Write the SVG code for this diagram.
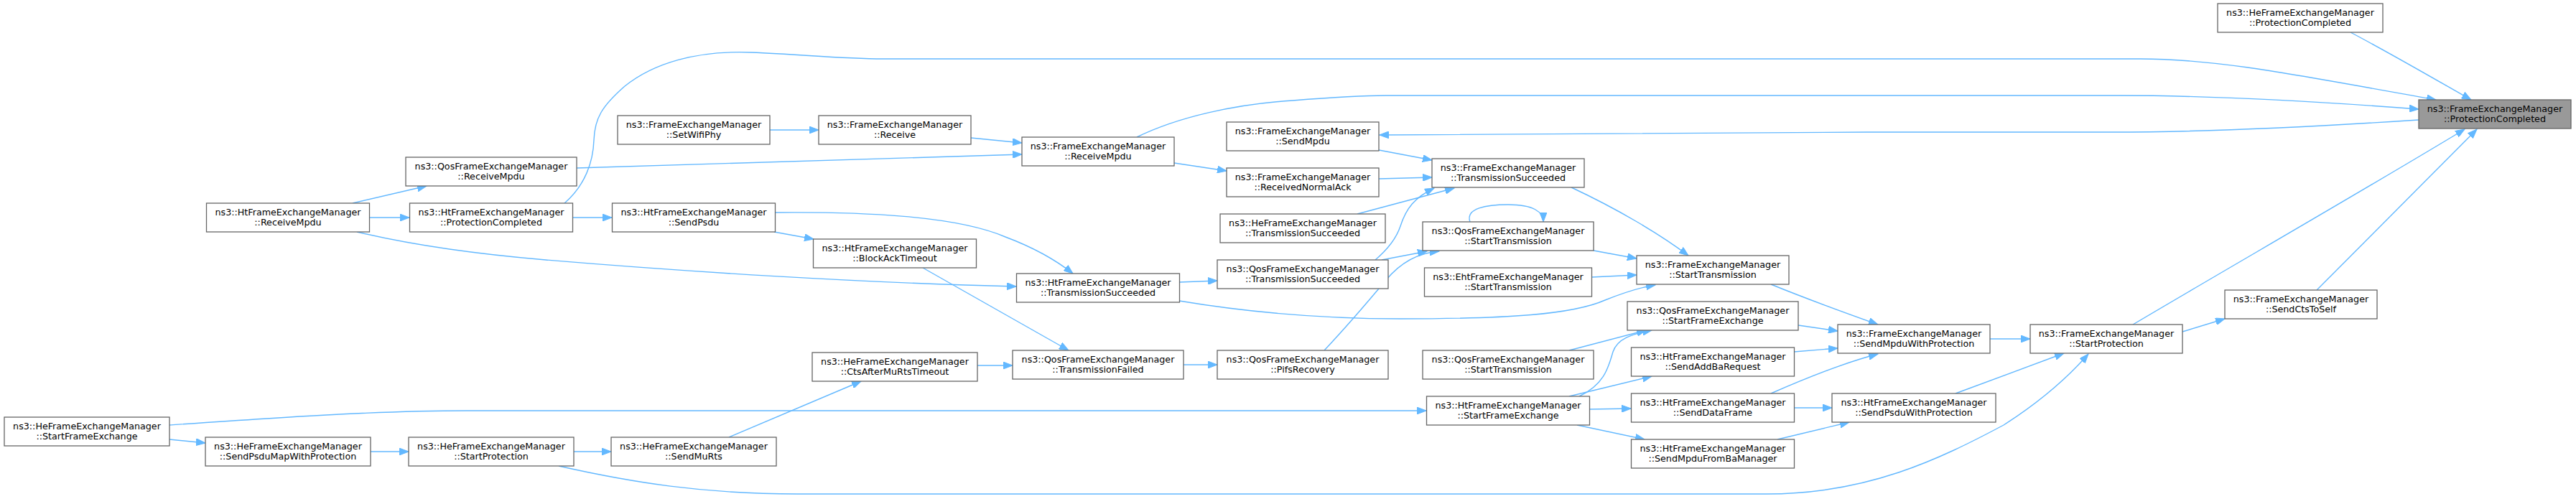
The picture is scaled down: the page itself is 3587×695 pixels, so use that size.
<svg xmlns="http://www.w3.org/2000/svg" width="3587" height="695" viewBox="0 0 3587 695">
<style>
.n rect{fill:#ffffff;stroke:#666666;stroke-width:1.3}
.n.t rect{fill:#999999}
.n text{font-family:"DejaVu Sans",Verdana,sans-serif;font-size:12.7px;fill:#000000;text-anchor:middle}
.e path{fill:none;stroke:#63b8ff;stroke-width:1.4}
</style>
<defs>
<marker id="ah" markerUnits="userSpaceOnUse" markerWidth="14" markerHeight="10" refX="13" refY="5" orient="auto" viewBox="0 0 14 10">
<path d="M0,0 L13,5 L0,10 z" fill="#63b8ff" stroke="#63b8ff" stroke-width="1"/>
</marker>
</defs>
<rect width="3587" height="695" fill="#ffffff"/>
<g class="e" marker-end="url(#ah)">
<path id="e1" d="M3273,45 C3330,75 3390,110 3441,139"/>
<path id="e2" d="M786,283 C815,258 826,225 827,195 C828,165 838,148 870,120 C910,88 970,70 1046,73 C1120,76 1170,82 1230,82 L2980,82 C3090,82 3200,105 3392,139"/>
<path id="e3" d="M1583,191 C1640,163 1720,145 1800,140 C1850,136 1890,133 1930,133 L2950,133 C3100,133 3250,143 3368,152"/>
<path id="e4" d="M3368,167 C3200,178 3050,184 2940,184 L2600,184 C2300,184 2100,186 1921,188"/>
<path id="e5" d="M2970,452 C3100,375 3300,260 3432,180"/>
<path id="e6" d="M3226,404 L3449,180"/>
<path id="e7" d="M3039,462 L3098,444"/>
<path id="e8" d="M2771,472 L2827,472"/>
<path id="e9" d="M2723,548 L2874,492"/>
<path id="e10" d="M778,649 C880,672 980,688 1110,688 L2460,688 C2600,688 2700,640 2790,592 C2840,560 2880,525 2908,493"/>
<path id="e11" d="M2466,396 C2520,418 2570,436 2615,452"/>
<path id="e12" d="M2504,453 L2559,461"/>
<path id="e13" d="M2498,490 L2559,485"/>
<path id="e14" d="M2466,548 C2530,520 2580,502 2615,493"/>
<path id="e15" d="M2498,568 L2551,568"/>
<path id="e16" d="M2475,612 L2575,588"/>
<path id="e17" d="M2199,552 C2235,535 2240,510 2246,490 C2252,472 2272,465 2300,460"/>
<path id="e18" d="M2185,552 L2300,524"/>
<path id="e19" d="M2213,570 L2271,569"/>
<path id="e20" d="M2196,592 L2290,612"/>
<path id="e21" d="M2185,488 L2292,460"/>
<path id="e22" d="M2219,349 L2279,360"/>
<path id="e23" d="M2216,386 L2279,383"/>
<path id="e24" d="M1642,419 C1720,432 1820,444 1950,444 C2100,444 2190,438 2235,418 C2260,408 2285,400 2305,397"/>
<path id="e25" d="M2188,261 C2250,290 2310,325 2351,356"/>
<path id="e26" d="M2047,309 C2040,290 2070,285 2100,285 C2135,285 2149,295 2149,309"/>
<path id="e27" d="M1920,209 L1994,223"/>
<path id="e28" d="M1920,249 L1994,247"/>
<path id="e29" d="M1890,298 L2025,262"/>
<path id="e30" d="M1915,362 C1935,345 1945,330 1950,315 C1958,290 1970,275 1997,262"/>
<path id="e31" d="M1924,362 L1987,350"/>
<path id="e32" d="M1844,488 C1875,455 1905,420 1930,390 C1950,366 1975,352 2004,350"/>
<path id="e33" d="M1635,227 L1708,238"/>
<path id="e34" d="M1352,192 L1423,199"/>
<path id="e35" d="M1072,181 L1140,181"/>
<path id="e36" d="M803,234 L1423,215"/>
<path id="e37" d="M491,283 L594,259"/>
<path id="e38" d="M515,303 L570,303"/>
<path id="e39" d="M497,323 C560,338 640,352 760,362 C950,378 1200,394 1415,399"/>
<path id="e40" d="M798,303 L852,303"/>
<path id="e41" d="M1080,296 C1200,295 1330,300 1400,330 C1440,345 1470,362 1494,381"/>
<path id="e42" d="M1078,323 L1133,333"/>
<path id="e43" d="M1285,373 L1488,488"/>
<path id="e44" d="M1642,393 L1695,391"/>
<path id="e45" d="M1361,509 L1410,509"/>
<path id="e46" d="M1648,508 L1695,508"/>
<path id="e47" d="M1015,609 L1199,531"/>
<path id="e48" d="M236,592 C380,582 520,572 650,572 L1986,572"/>
<path id="e49" d="M236,612 L286,617"/>
<path id="e50" d="M516,629 L569,629"/>
<path id="e51" d="M799,629 L851,629"/>
</g>
<g id="n_target" class="n t"><rect x="3368" y="139" width="212" height="40"/><text x="3474" y="156">ns3::FrameExchangeManager</text><text x="3474" y="170">::ProtectionCompleted</text></g>
<g id="n_heProtComp" class="n"><rect x="3088" y="5" width="230" height="40"/><text x="3203" y="22">ns3::HeFrameExchangeManager</text><text x="3203" y="36">::ProtectionCompleted</text></g>
<g id="n_sendCts" class="n"><rect x="3098" y="404" width="212" height="40"/><text x="3204" y="421">ns3::FrameExchangeManager</text><text x="3204" y="435">::SendCtsToSelf</text></g>
<g id="n_startProt" class="n"><rect x="2827" y="452" width="212" height="40"/><text x="2933" y="469">ns3::FrameExchangeManager</text><text x="2933" y="483">::StartProtection</text></g>
<g id="n_sendMpduWP" class="n"><rect x="2559" y="452" width="212" height="40"/><text x="2665" y="469">ns3::FrameExchangeManager</text><text x="2665" y="483">::SendMpduWithProtection</text></g>
<g id="n_htSendPsduWP" class="n"><rect x="2551" y="548" width="228" height="40"/><text x="2665" y="565">ns3::HtFrameExchangeManager</text><text x="2665" y="579">::SendPsduWithProtection</text></g>
<g id="n_startTx" class="n"><rect x="2279" y="356" width="212" height="40"/><text x="2385" y="373">ns3::FrameExchangeManager</text><text x="2385" y="387">::StartTransmission</text></g>
<g id="n_qosStartFE" class="n"><rect x="2266" y="420" width="238" height="40"/><text x="2385" y="437">ns3::QosFrameExchangeManager</text><text x="2385" y="451">::StartFrameExchange</text></g>
<g id="n_htAddBa" class="n"><rect x="2271.5" y="484" width="227" height="40"/><text x="2385" y="501">ns3::HtFrameExchangeManager</text><text x="2385" y="515">::SendAddBaRequest</text></g>
<g id="n_htDataFrame" class="n"><rect x="2271.5" y="548" width="227" height="40"/><text x="2385" y="565">ns3::HtFrameExchangeManager</text><text x="2385" y="579">::SendDataFrame</text></g>
<g id="n_htMpduFromBa" class="n"><rect x="2271.5" y="612" width="227" height="40"/><text x="2385" y="629">ns3::HtFrameExchangeManager</text><text x="2385" y="643">::SendMpduFromBaManager</text></g>
<g id="n_txSucc" class="n"><rect x="1994" y="221" width="212" height="40"/><text x="2100" y="238">ns3::FrameExchangeManager</text><text x="2100" y="252">::TransmissionSucceeded</text></g>
<g id="n_qosStartTx1" class="n"><rect x="1981" y="309" width="238" height="40"/><text x="2100" y="326">ns3::QosFrameExchangeManager</text><text x="2100" y="340">::StartTransmission</text></g>
<g id="n_ehtStartTx" class="n"><rect x="1983.5" y="373" width="233" height="40"/><text x="2100" y="390">ns3::EhtFrameExchangeManager</text><text x="2100" y="404">::StartTransmission</text></g>
<g id="n_qosStartTx2" class="n"><rect x="1981" y="488" width="238" height="40"/><text x="2100" y="505">ns3::QosFrameExchangeManager</text><text x="2100" y="519">::StartTransmission</text></g>
<g id="n_htStartFE" class="n"><rect x="1986.5" y="552" width="227" height="40"/><text x="2100" y="569">ns3::HtFrameExchangeManager</text><text x="2100" y="583">::StartFrameExchange</text></g>
<g id="n_sendMpdu" class="n"><rect x="1708" y="170" width="212" height="40"/><text x="1814" y="187">ns3::FrameExchangeManager</text><text x="1814" y="201">::SendMpdu</text></g>
<g id="n_rxNormalAck" class="n"><rect x="1708" y="234" width="212" height="40"/><text x="1814" y="251">ns3::FrameExchangeManager</text><text x="1814" y="265">::ReceivedNormalAck</text></g>
<g id="n_heTxSucc" class="n"><rect x="1699" y="298" width="230" height="40"/><text x="1814" y="315">ns3::HeFrameExchangeManager</text><text x="1814" y="329">::TransmissionSucceeded</text></g>
<g id="n_qosTxSucc" class="n"><rect x="1695" y="362" width="238" height="40"/><text x="1814" y="379">ns3::QosFrameExchangeManager</text><text x="1814" y="393">::TransmissionSucceeded</text></g>
<g id="n_qosPifs" class="n"><rect x="1695" y="488" width="238" height="40"/><text x="1814" y="505">ns3::QosFrameExchangeManager</text><text x="1814" y="519">::PifsRecovery</text></g>
<g id="n_rxMpdu" class="n"><rect x="1423" y="191" width="212" height="40"/><text x="1529" y="208">ns3::FrameExchangeManager</text><text x="1529" y="222">::ReceiveMpdu</text></g>
<g id="n_htTxSucc" class="n"><rect x="1415.5" y="381" width="227" height="40"/><text x="1529" y="398">ns3::HtFrameExchangeManager</text><text x="1529" y="412">::TransmissionSucceeded</text></g>
<g id="n_qosTxFailed" class="n"><rect x="1410" y="488" width="238" height="40"/><text x="1529" y="505">ns3::QosFrameExchangeManager</text><text x="1529" y="519">::TransmissionFailed</text></g>
<g id="n_receive" class="n"><rect x="1140" y="161" width="212" height="40"/><text x="1246" y="178">ns3::FrameExchangeManager</text><text x="1246" y="192">::Receive</text></g>
<g id="n_htBlockAck" class="n"><rect x="1132.5" y="333" width="227" height="40"/><text x="1246" y="350">ns3::HtFrameExchangeManager</text><text x="1246" y="364">::BlockAckTimeout</text></g>
<g id="n_heCtsTimeout" class="n"><rect x="1131" y="491" width="230" height="40"/><text x="1246" y="508">ns3::HeFrameExchangeManager</text><text x="1246" y="522">::CtsAfterMuRtsTimeout</text></g>
<g id="n_setWifiPhy" class="n"><rect x="860" y="161" width="212" height="40"/><text x="966" y="178">ns3::FrameExchangeManager</text><text x="966" y="192">::SetWifiPhy</text></g>
<g id="n_htSendPsdu" class="n"><rect x="852.5" y="283" width="227" height="40"/><text x="966" y="300">ns3::HtFrameExchangeManager</text><text x="966" y="314">::SendPsdu</text></g>
<g id="n_heSendMuRts" class="n"><rect x="851" y="609" width="230" height="40"/><text x="966" y="626">ns3::HeFrameExchangeManager</text><text x="966" y="640">::SendMuRts</text></g>
<g id="n_qosRxMpdu" class="n"><rect x="565" y="219" width="238" height="40"/><text x="684" y="236">ns3::QosFrameExchangeManager</text><text x="684" y="250">::ReceiveMpdu</text></g>
<g id="n_htProtComp" class="n"><rect x="570.5" y="283" width="227" height="40"/><text x="684" y="300">ns3::HtFrameExchangeManager</text><text x="684" y="314">::ProtectionCompleted</text></g>
<g id="n_heStartProt" class="n"><rect x="569" y="609" width="230" height="40"/><text x="684" y="626">ns3::HeFrameExchangeManager</text><text x="684" y="640">::StartProtection</text></g>
<g id="n_htRxMpdu" class="n"><rect x="287.5" y="283" width="227" height="40"/><text x="401" y="300">ns3::HtFrameExchangeManager</text><text x="401" y="314">::ReceiveMpdu</text></g>
<g id="n_heSendPsduMap" class="n"><rect x="286" y="609" width="230" height="40"/><text x="401" y="626">ns3::HeFrameExchangeManager</text><text x="401" y="640">::SendPsduMapWithProtection</text></g>
<g id="n_heStartFE" class="n"><rect x="6" y="581" width="230" height="40"/><text x="121" y="598">ns3::HeFrameExchangeManager</text><text x="121" y="612">::StartFrameExchange</text></g>
</svg>
